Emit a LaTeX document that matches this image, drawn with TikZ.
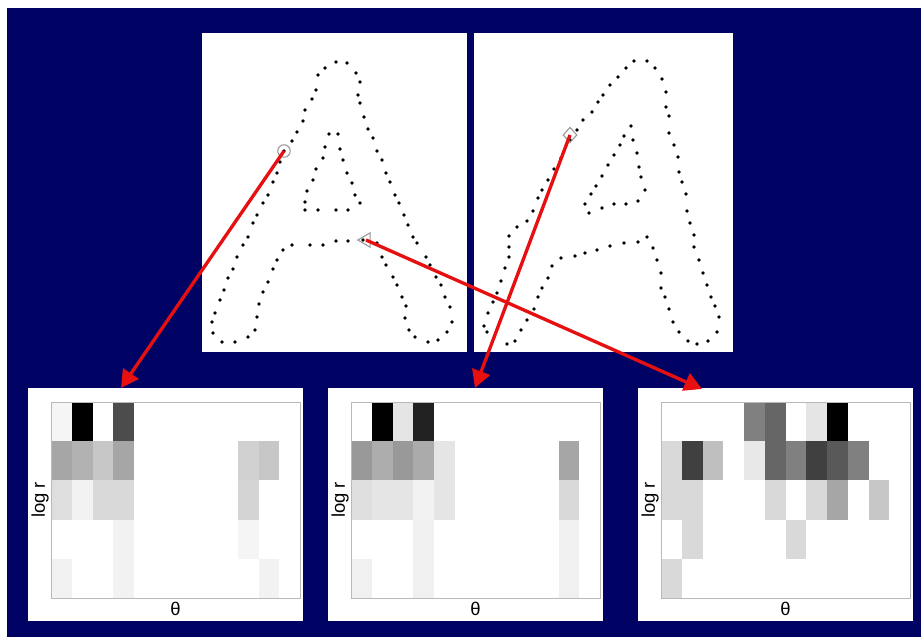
\documentclass[tikz,border=0pt]{standalone}
\usepackage{fontspec}
\setmainfont{Liberation Sans}
\usetikzlibrary{arrows.meta, shapes.geometric, positioning}
\definecolor{navybg}{RGB}{0,2,100}
\definecolor{arrowred}{RGB}{230,16,16}
\definecolor{markgray}{RGB}{150,150,150}

\begin{document}
\begin{tikzpicture}[x=0.02cm, y=-0.02cm,
    sheet/.style={fill=white},
    mkr/.style={draw=markgray, line width=0.6pt, inner sep=0pt},
    axbox/.style={draw=gray!55, line width=0.5pt},
    axlbl/.style={font=\fontsize{10.5}{12}\selectfont, inner sep=0pt},
    arr/.style={-{Triangle[length=10pt,width=10.5pt]}, line width=1.9pt, arrowred}
]
    \useasboundingbox (0,0) rectangle (921,637);
    \fill[white] (0,0) rectangle (921,637);
    \fill[navybg] (7,8) rectangle (921,637);

    % Letters
    \fill[sheet] (202,33) rectangle (467,352);
    \fill[sheet] (474,33) rectangle (733,352);

    \foreach \x/\y in {336/62, 347/63, 325/68, 318/75, 316/90, 312/99, 305/110, 303/121,
        297/132, 292/141, 284/151, 280/162, 277/173, 273/182, 268/195, 263/203, 257/215,
        253/223, 248/237, 243/245, 237/257, 233/269, 228/278, 224/290, 220/300, 215/313,
        212/322, 213/333, 222/342, 235/342, 248/337, 255/330, 257/317, 259/304, 263/292,
        268/282, 273/269, 277/260, 283/250, 292/245, 310/245, 323/245, 336/241, 348/241,
        363/240, 377/243, 382/257, 386/265, 393/277, 397/285, 402/297, 406/306, 405/318,
        409/330, 415/337, 428/342, 438/340, 447/332, 452/322, 450/307, 445/297, 441/285,
        436/277, 430/265, 426/257, 417/243, 413/237, 408/225, 404/215, 399/203, 395/195,
        390/182, 386/173, 382/160, 377/151, 373/138, 368/129, 364/117, 360/103, 358/95,
        360/82, 356/73,
        329/134, 338/134, 325/147, 340/149, 323/158, 343/160, 316/169, 347/173, 313/180,
        352/183, 307/191, 355/195, 305/202, 360/203, 305/210, 318/210, 336/210, 348/210}
        \fill (\x,\y) circle[radius=1.05pt];

    \foreach \x/\y in {634/61, 647/61, 655/68, 662/79, 666/92, 666/107, 669/116, 669/133,
        674/145, 678/157, 679/172, 682/182, 686/194, 687/211, 690/223, 694/235, 694/247,
        699/260, 703/273, 707/285, 711/297, 715/306, 719/317, 717/332, 708/341, 697/344,
        688/341, 679/332, 673/322, 669/309, 665/297, 661/288, 661/273, 657/260, 653/248,
        647/237, 638/242, 624/243, 610/246, 597/250, 585/253, 575/256, 561/258, 552/266,
        548/278, 542/288, 538/297, 534/309, 527/320, 521/330, 515/341, 507/344, 487/332,
        484/326, 488/313, 493/302, 497/293, 501/281, 505/268, 509/257, 509/247, 509/236,
        517/227, 527/221, 533/211, 538/198, 542/190, 548/180, 554/169, 561/158, 570/140,
        577/130, 583/120, 592/112, 598/102, 603/95, 610/85, 618/77, 626/68,
        631/126, 624/136, 633/140, 620/145, 637/153, 614/155, 639/167, 608/165, 641/177,
        602/176, 645/190, 596/186, 591/194, 585/204, 589/213, 602/208, 614/204, 626/204,
        638/201}
        \fill (\x,\y) circle[radius=1.05pt];

    \node[mkr, circle, minimum size=0.25cm] (mc) at (284,151) {};
    \node[mkr, regular polygon, regular polygon sides=3, shape border rotate=90,
        minimum size=0.33cm] (mt) at (366,240) {};
    \node[mkr, diamond, minimum width=0.28cm, minimum height=0.31cm] (md) at (570,135) {};

    % Histograms
    \fill[sheet] (28,388) rectangle (303,621);
    \fill[sheet] (328,388) rectangle (603,621);
    \fill[sheet] (638,388) rectangle (913,621);

    \begin{scope}[shift={(51,402)}]
        \foreach \r/\c/\g in {0/0/4, 0/1/100, 0/3/70,
            1/0/35, 1/1/30, 1/2/22, 1/3/35, 1/9/18, 1/10/22,
            2/0/13, 2/1/5, 2/2/15, 2/3/15, 2/9/17,
            3/3/5, 3/9/4, 4/0/5, 4/3/5, 4/10/5}
            \fill[black!\g] ({\c*20.75},{\r*39.2}) rectangle ++(20.75,39.2);
        \draw[axbox] (0,0) rectangle (249,196);
        \node[axlbl, rotate=90] (lr1) at (-11,98) {log r};
        \node[axlbl] (th1) at (124.5,207) {θ};
    \end{scope}

    \begin{scope}[shift={(351,402)}]
        \foreach \r/\c/\g in {0/1/100, 0/2/10, 0/3/87,
            1/0/40, 1/1/32, 1/2/40, 1/3/33, 1/4/10, 1/10/35,
            2/0/13, 2/1/10, 2/2/10, 2/3/5, 2/4/10, 2/10/15,
            3/3/6, 3/10/6, 4/0/6, 4/3/6, 4/10/6}
            \fill[black!\g] ({\c*20.75},{\r*39.2}) rectangle ++(20.75,39.2);
        \draw[axbox] (0,0) rectangle (249,196);
        \node[axlbl, rotate=90] (lr2) at (-11,98) {log r};
        \node[axlbl] (th2) at (124.5,207) {θ};
    \end{scope}

    \begin{scope}[shift={(661,402)}]
        \foreach \r/\c/\g in {0/4/50, 0/5/60, 0/7/10, 0/8/100,
            1/0/15, 1/1/75, 1/2/25, 1/4/9, 1/5/60, 1/6/50, 1/7/75, 1/8/65, 1/9/50,
            2/0/15, 2/1/15, 2/5/15, 2/7/15, 2/8/35, 2/10/22,
            3/1/15, 3/6/15, 4/0/15}
            \fill[black!\g] ({\c*20.75},{\r*39.2}) rectangle ++(20.75,39.2);
        \draw[axbox] (0,0) rectangle (249,196);
        \node[axlbl, rotate=90] (lr3) at (-11,98) {log r};
        \node[axlbl] (th3) at (124.5,207) {θ};
    \end{scope}

    % Arrows
    \coordinate (e1) at (121,388);
    \coordinate (e2) at (475,388);
    \coordinate (e3) at (702,389);
    \draw[arr] (mc.center) -- (e1);
    \draw[arr] (md.center) -- (e2);
    \draw[arr] (mt.center) -- (e3);
\end{tikzpicture}
\end{document}
